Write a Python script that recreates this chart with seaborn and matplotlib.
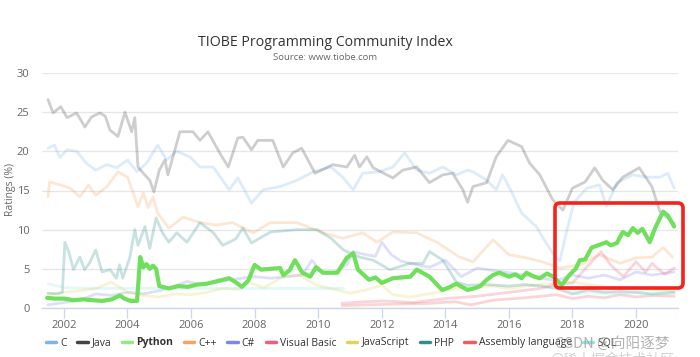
import numpy as np
import pandas as pd
import matplotlib
matplotlib.use("Agg")
import matplotlib.pyplot as plt
from matplotlib.lines import Line2D
from matplotlib.patches import FancyBboxPatch
from matplotlib.transforms import IdentityTransform
import seaborn as sns

# ---------------- data ----------------
LANGUAGES = ["C", "Java", "Python", "C++", "C#", "Visual Basic",
             "JavaScript", "PHP", "Assembly language", "SQL"]
COLORS = ["#7cb5ec", "#434348", "#90ed7d", "#f7a35c", "#8085e9", "#f15c80",
          "#e4d354", "#2b908f", "#f45b5b", "#91e8e1"]

python_years = [2001.47, 2001.7, 2002.0, 2002.3, 2002.6, 2002.9, 2003.2, 2003.5, 2003.76, 2003.9,
                2004.1, 2004.3, 2004.4, 2004.5, 2004.6, 2004.7, 2004.8, 2004.9, 2005.0, 2005.3,
                2005.6, 2005.9, 2006.2, 2006.5, 2006.8, 2007.2, 2007.4, 2007.6, 2007.8, 2008.0,
                2008.2, 2008.5, 2008.8, 2008.9, 2009.1, 2009.27, 2009.5, 2009.75, 2009.93, 2010.15,
                2010.6, 2010.9, 2011.1, 2011.25, 2011.6, 2011.8, 2012.0, 2012.35, 2012.9, 2013.1,
                2013.5, 2013.9, 2014.1, 2014.35, 2014.7, 2014.9, 2015.1, 2015.3, 2015.5, 2015.7,
                2016.0, 2016.2, 2016.4, 2016.55, 2016.8, 2016.97, 2017.2, 2017.4, 2017.66, 2017.9,
                2018.1, 2018.23, 2018.4, 2018.6, 2018.8, 2019.07, 2019.2, 2019.4, 2019.58, 2019.75,
                2019.9, 2020.05, 2020.2, 2020.43, 2020.6, 2020.85, 2021.0, 2021.2]
python_vals = [1.3, 1.2, 1.2, 1.0, 1.1, 1.0, 0.9, 1.1, 1.6, 1.2,
               0.9, 0.9, 6.5, 5.2, 5.6, 5.0, 5.4, 5.0, 2.8, 2.5,
               2.8, 2.7, 3.0, 3.1, 3.4, 3.8, 3.3, 2.7, 3.5, 5.5,
               4.9, 5.0, 5.1, 4.2, 4.8, 6.1, 4.5, 4.0, 5.2, 4.5,
               4.5, 6.4, 7.0, 4.9, 3.6, 3.9, 3.2, 3.8, 4.0, 4.9,
               4.0, 2.3, 2.6, 3.1, 2.3, 2.5, 2.8, 3.6, 4.2, 4.5,
               4.0, 4.3, 3.8, 4.5, 4.0, 3.8, 4.4, 4.0, 2.9, 4.2,
               5.0, 6.1, 6.2, 7.7, 8.0, 8.4, 8.0, 8.3, 9.7, 9.3,
               10.2, 9.6, 10.1, 8.4, 10.2, 12.3, 11.8, 10.4]

java_years = [2001.5, 2001.66, 2001.9, 2002.1, 2002.4, 2002.66, 2002.87, 2003.13, 2003.3, 2003.45,
              2003.7, 2003.92, 2004.13, 2004.23, 2004.33, 2004.5, 2004.7, 2004.83, 2005.0, 2005.18,
              2005.27, 2005.65, 2006.06, 2006.28, 2006.53, 2006.9, 2007.17, 2007.47, 2007.63, 2007.9,
              2008.1, 2008.57, 2008.9, 2009.2, 2009.48, 2009.9, 2010.46, 2010.9, 2011.15, 2011.3,
              2011.53, 2011.73, 2012.35, 2012.66, 2013.1, 2013.5, 2013.92, 2014.23, 2014.55, 2014.7,
              2014.87, 2015.3, 2015.6, 2015.97, 2016.4, 2016.65, 2016.97, 2017.38, 2017.7, 2018.0,
              2018.4, 2018.7, 2018.95, 2019.27, 2019.58, 2020.1, 2020.5, 2020.75, 2021.0, 2021.2]
java_vals = [26.6, 24.9, 25.7, 24.3, 24.9, 23.1, 24.4, 24.9, 24.5, 22.7,
             21.9, 25.0, 22.5, 24.3, 18.0, 17.2, 16.3, 14.8, 17.6, 18.9,
             17.0, 22.5, 22.5, 21.4, 22.5, 19.8, 18.0, 21.7, 21.8, 20.2,
             21.4, 21.4, 18.0, 19.8, 20.4, 17.2, 18.3, 18.0, 19.5, 18.0,
             19.3, 17.9, 16.6, 17.6, 18.0, 16.0, 17.0, 17.2, 15.1, 13.5,
             15.5, 16.0, 19.3, 21.4, 20.6, 18.5, 17.0, 13.8, 12.5, 15.3,
             16.1, 17.9, 16.3, 15.1, 16.7, 17.9, 15.5, 12.3, 11.5, 10.8]

c_years = [2001.5, 2001.7, 2001.87, 2002.1, 2002.4, 2002.7, 2003.0, 2003.35, 2003.66, 2004.0,
           2004.3, 2004.6, 2004.95, 2005.23, 2005.55, 2005.96, 2006.28, 2006.7, 2007.2, 2007.47,
           2007.9, 2008.27, 2008.8, 2009.33, 2009.85, 2010.4, 2010.77, 2011.1, 2011.4, 2011.93,
           2012.35, 2012.72, 2013.1, 2013.5, 2013.92, 2014.35, 2014.7, 2014.87, 2015.3, 2015.6,
           2015.8, 2016.1, 2016.4, 2016.86, 2017.05, 2017.38, 2017.6, 2017.8, 2018.05, 2018.45,
           2018.85, 2019.07, 2019.4, 2019.9, 2020.33, 2020.75, 2021.0, 2021.2]
c_vals = [20.4, 20.8, 19.2, 20.2, 20.0, 18.5, 17.6, 18.3, 17.9, 18.9,
          17.4, 18.5, 20.8, 18.9, 20.0, 19.3, 18.0, 18.0, 15.1, 16.6,
          13.4, 15.1, 15.5, 16.3, 17.4, 18.0, 16.7, 15.1, 17.2, 17.4,
          18.0, 19.8, 17.6, 17.2, 18.0, 17.0, 17.6, 17.4, 16.3, 15.1,
          17.0, 14.7, 12.1, 10.4, 9.1, 7.0, 6.0, 9.5, 13.5, 15.3,
          15.7, 13.0, 16.0, 17.0, 16.7, 16.7, 17.2, 15.3]

cpp_years = [2001.5, 2001.55, 2001.9, 2002.2, 2002.5, 2002.77, 2003.0, 2003.35, 2003.7, 2004.0,
             2004.18, 2004.33, 2004.5, 2004.65, 2004.8, 2004.95, 2005.3, 2005.75, 2006.28, 2006.8,
             2007.3, 2007.95, 2008.5, 2009.33, 2010.15, 2010.77, 2011.4, 2011.85, 2012.35, 2013.1,
             2013.73, 2014.45, 2014.87, 2015.5, 2016.0, 2016.55, 2017.05, 2017.6, 2018.23, 2018.85,
             2019.5, 2020.0, 2020.5, 2020.85, 2021.15]
cpp_vals = [14.2, 16.1, 15.7, 15.3, 14.2, 15.7, 14.4, 15.5, 17.4, 16.7,
            14.7, 12.9, 14.7, 12.8, 14.2, 12.1, 10.2, 11.6, 10.9, 10.6,
            10.9, 9.6, 10.9, 10.9, 9.6, 8.9, 9.6, 8.4, 9.7, 9.6,
            8.4, 6.5, 5.9, 8.7, 6.8, 6.4, 5.9, 5.1, 5.5, 6.8,
            5.7, 6.4, 6.5, 7.7, 6.5]

csharp_years = [2001.5, 2002.0, 2002.5, 2003.0, 2003.5, 2004.0, 2004.5, 2005.0, 2005.5, 2005.87,
                2006.3, 2006.8, 2007.2, 2007.6, 2008.0, 2008.5, 2009.0, 2009.5, 2009.8, 2010.1,
                2010.5, 2010.9, 2011.1, 2011.5, 2011.8, 2012.0, 2012.3, 2012.6, 2013.0, 2013.5,
                2014.0, 2014.5, 2015.0, 2015.5, 2016.0, 2016.5, 2017.0, 2017.5, 2018.0, 2018.5,
                2019.0, 2019.5, 2020.0, 2020.5, 2021.2]
csharp_vals = [0.4, 0.7, 1.0, 1.8, 1.6, 2.0, 1.8, 2.2, 2.8, 3.4,
               3.0, 3.3, 3.6, 3.8, 4.0, 3.8, 4.0, 4.2, 6.1, 4.6,
               4.5, 5.5, 7.2, 6.8, 6.6, 8.4, 6.8, 6.0, 5.6, 5.2,
               6.1, 4.0, 5.1, 4.8, 4.5, 4.2, 3.8, 3.5, 4.2, 3.8,
               4.2, 3.6, 4.6, 4.2, 4.6]

vb_years = [2010.75, 2011.5, 2012.0, 2013.0, 2014.0, 2015.0, 2016.0, 2017.0, 2017.5, 2018.0,
            2018.4, 2018.9, 2019.2, 2019.6, 2020.0, 2020.3, 2020.5, 2020.9, 2021.2]
vb_vals = [0.6, 0.8, 0.9, 0.7, 1.2, 1.5, 2.0, 2.5, 3.0, 3.2,
           5.0, 7.2, 5.5, 4.0, 5.9, 4.6, 5.7, 4.3, 5.1]

js_years = [2001.5, 2002.0, 2002.5, 2003.0, 2003.5, 2004.0, 2004.5, 2005.0, 2005.5, 2006.0,
            2006.5, 2007.0, 2007.5, 2007.85, 2008.3, 2008.9, 2009.4, 2009.95, 2010.6, 2011.0,
            2011.5, 2012.0, 2012.35, 2012.9, 2013.6, 2014.35, 2015.0, 2015.5, 2016.0, 2016.5,
            2017.0, 2017.5, 2018.0, 2018.5, 2019.0, 2019.5, 2020.0, 2020.5, 2021.2]
js_vals = [1.7, 2.0, 2.2, 2.5, 3.3, 2.0, 1.6, 1.4, 1.8, 1.7,
           2.0, 2.5, 2.4, 3.2, 2.6, 4.0, 4.2, 2.9, 2.3, 1.9,
           2.3, 2.9, 1.7, 1.4, 1.9, 2.5, 2.6, 2.8, 2.5, 2.8,
           3.0, 3.2, 3.3, 3.0, 2.7, 2.4, 2.6, 2.3, 2.2]

php_years = [2001.5, 2001.8, 2001.95, 2002.03, 2002.15, 2002.3, 2002.5, 2002.65, 2002.8, 2003.0,
             2003.2, 2003.45, 2003.65, 2003.75, 2003.85, 2004.07, 2004.23, 2004.33, 2004.55, 2004.7,
             2004.9, 2005.1, 2005.3, 2005.55, 2005.87, 2006.28, 2006.7, 2007.0, 2007.4, 2007.63,
             2007.9, 2008.5, 2009.3, 2009.97, 2010.4, 2010.8, 2011.3, 2011.73, 2012.25, 2012.9,
             2013.3, 2013.5, 2013.92, 2014.35, 2014.7, 2015.3, 2016.0, 2016.5, 2017.0, 2017.5,
             2018.0, 2018.5, 2019.0, 2019.5, 2020.0, 2020.5, 2021.2]
php_vals = [1.9, 1.8, 2.0, 8.4, 7.2, 4.9, 6.5, 4.9, 5.7, 7.4,
            4.6, 4.9, 3.8, 5.5, 3.8, 6.4, 10.0, 8.0, 10.4, 7.6,
            11.5, 9.6, 8.4, 9.6, 8.4, 10.9, 9.6, 8.0, 8.8, 10.2,
            8.3, 9.7, 10.0, 10.0, 8.9, 7.4, 6.5, 6.1, 4.9, 5.7,
            5.7, 7.2, 6.1, 3.3, 2.9, 3.0, 2.8, 3.0, 2.8, 2.5,
            1.8, 2.3, 2.0, 2.1, 2.0, 1.8, 2.0]

asm_years = [2010.75, 2011.5, 2012.5, 2013.5, 2014.3, 2014.8, 2015.5, 2016.5, 2017.5, 2018.0,
             2018.5, 2019.0, 2019.5, 2020.0, 2020.5, 2021.2]
asm_vals = [0.3, 0.4, 0.5, 0.6, 0.8, 0.4, 1.0, 1.3, 1.7, 1.2,
            1.5, 1.3, 1.7, 1.4, 1.6, 1.5]

sql_years_early = [2001.5, 2002.0, 2003.0, 2004.0, 2005.0, 2006.0, 2007.0, 2008.0, 2009.0, 2010.0, 2010.8]
sql_vals_early = [3.1, 2.6, 2.5, 2.5, 2.5, 2.5, 2.5, 2.5, 2.5, 2.5, 2.5]
sql_years_late = [2018.0, 2018.5, 2019.0, 2019.5, 2020.0, 2020.5, 2021.2]
sql_vals_late = [1.8, 2.0, 1.9, 1.8, 2.0, 1.7, 1.9]

X_TICKS = [2002, 2004, 2006, 2008, 2010, 2012, 2014, 2016, 2018, 2020]
Y_TICKS = [0, 5, 10, 15, 20, 25, 30]

series = {
    "C": [(c_years, c_vals)],
    "Java": [(java_years, java_vals)],
    "Python": [(python_years, python_vals)],
    "C++": [(cpp_years, cpp_vals)],
    "C#": [(csharp_years, csharp_vals)],
    "Visual Basic": [(vb_years, vb_vals)],
    "JavaScript": [(js_years, js_vals)],
    "PHP": [(php_years, php_vals)],
    "Assembly language": [(asm_years, asm_vals)],
    "SQL": [(sql_years_early, sql_vals_early), (sql_years_late, sql_vals_late)],
}

# ---------------- figure ----------------
sns.set_theme(style="white")
plt.rcParams["font.family"] = ["Open Sans", "DejaVu Sans"]

W, H = 700, 357
fig = plt.figure(figsize=(W / 100, H / 100), dpi=100)
ax = fig.add_axes([42 / W, 1 - 308 / H, (678 - 42) / W, (308 - 73) / H])

for lang, color in zip(LANGUAGES, COLORS):
    for yrs, vals in series[lang]:
        df = pd.DataFrame({"year": yrs, "rating": vals})
        if lang == "Python":
            sns.lineplot(data=df, x="year", y="rating", ax=ax, color="#6fdf5c",
                         linewidth=3.0, legend=False, sort=False, estimator=None, zorder=10)
        else:
            sns.lineplot(data=df, x="year", y="rating", ax=ax, color=color, alpha=0.26,
                         linewidth=2.0, legend=False, sort=False, estimator=None, zorder=3)

ax.set_xlim(2001.31, 2021.32)
ax.set_ylim(0, 30)
ax.set_yticks(Y_TICKS)
ax.set_xticks(X_TICKS)
ax.set_xticklabels([str(t) for t in X_TICKS])
ax.grid(axis="y", color="#e6e6e6", linewidth=0.9)
ax.grid(axis="x", visible=False)
for s in ["top", "right", "left"]:
    ax.spines[s].set_visible(False)
ax.spines["bottom"].set_color("#ccd6eb")
ax.spines["bottom"].set_linewidth(1.0)
ax.tick_params(axis="y", length=0, pad=9, labelsize=8, labelcolor="#666666")
ax.tick_params(axis="x", length=7, width=0.9, color="#ccd6eb", pad=2,
               labelsize=8, labelcolor="#666666", bottom=True)
ax.set_xlabel("")
ax.set_ylabel("")
fig.text(11 / W, 1 - 190 / H, "Ratings (%)", rotation=90, ha="center", va="center",
         fontsize=7.5, color="#666666")

# title & subtitle
fig.text(325 / W, 1 - 42 / H, "TIOBE Programming Community Index", ha="center", va="center",
         fontsize=10.2, color="#333333")
fig.text(325 / W, 1 - 58 / H, "Source: www.tiobe.com", ha="center", va="center",
         fontsize=6.8, color="#666666")

# legend
handles = [Line2D([0], [0], color=c, lw=2.5) for c in COLORS]
leg = fig.legend(handles, LANGUAGES, loc="center", bbox_to_anchor=(331 / W, 1 - 343 / H),
                 ncol=10, frameon=False, fontsize=7.5, handlelength=1.0, handletextpad=0.4,
                 columnspacing=1.0)
for txt in leg.get_texts():
    txt.set_color("#333333")
    if txt.get_text() == "Python":
        txt.set_fontweight("bold")

# red highlight box (annotation)
box = FancyBboxPatch((555, H - 288), 128, 85, boxstyle="round,pad=0,rounding_size=5",
                     transform=IdentityTransform(), fill=False, edgecolor="#f5221b",
                     linewidth=2.6, zorder=20)
fig.patches.append(box)

# watermark
fig.text(612 / W, 1 - 344 / H, "CSDN @向阳逐梦", ha="center", va="center", fontsize=10.5,
         color="#9a9a9a", alpha=0.75, family=["Noto Sans CJK SC", "DejaVu Sans"], zorder=30)
fig.text(612 / W, 1 - 360 / H, "@稀土掘金技术社区", ha="center", va="center", fontsize=10,
         color="#b5b5b5", alpha=0.6, family=["Noto Sans CJK SC", "DejaVu Sans"], zorder=30)

fig.savefig("out.png", dpi=100)
